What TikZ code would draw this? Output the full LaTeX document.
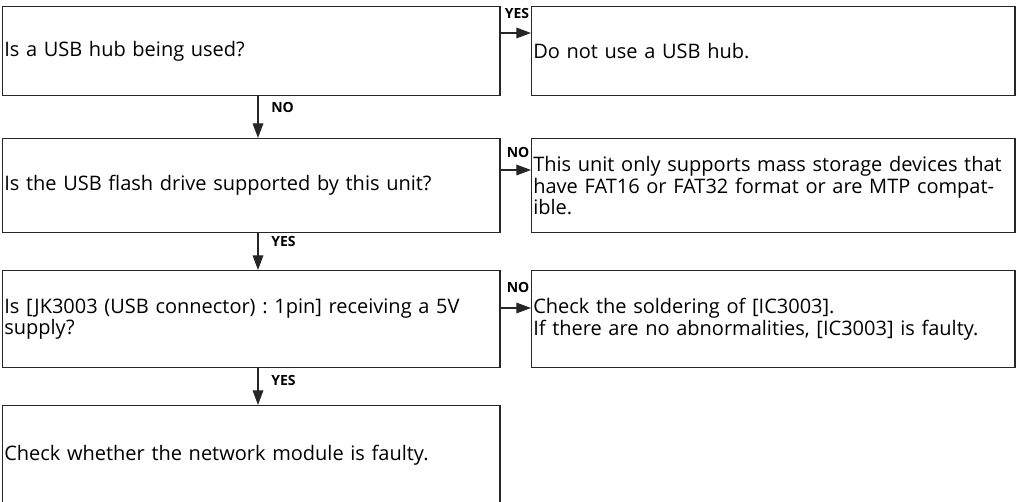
\documentclass[tikz,border=0pt]{standalone}
\usepackage{fontspec}
\setmainfont{Open Sans}
\frenchspacing
\usetikzlibrary{arrows.meta,calc}
\newcommand\myboxfont{\fontsize{15}{16}\selectfont\setlength\lineskiplimit{-20pt}\setlength\lineskip{0pt}}
\begin{document}
\begin{tikzpicture}[x=0.75pt,y=-0.75pt,
  lbox/.style={draw=black!85, line width=1pt, rectangle, anchor=north west,
    inner xsep=1.2pt, inner ysep=0pt, text width=370.5pt, align=left,
    font=\myboxfont},
  rbox/.style={lbox, text width=360pt},
  conn/.style={draw=black!85, line width=0.9pt, -{Triangle[length=11pt,width=8pt]}},
  lab/.style={font=\fontsize{10.5}{11}\selectfont\bfseries, inner sep=0pt}]
\useasboundingbox (0,0) rectangle (1024,502);
% left column
\node[lbox, minimum height=66.75pt] (b1) at (2,6) {Is a USB hub being used?};
\node[lbox, minimum height=70.5pt] (b2) at (2,138) {Is the USB flash drive supported by this unit?};
\node[lbox, minimum height=72.75pt] (b3) at (2,270) {Is [JK3003 (USB connector) : 1pin] receiving a 5V\\supply?};
\node[lbox, minimum height=75pt] (b4) at (2,405) {Check whether the network module is faulty.};
% right column
\node[rbox, minimum height=66.75pt] (r1) at (531,6) {Do not use a USB hub.};
\node[rbox, minimum height=70.5pt] (r2) at (531,138) {This unit only supports mass storage devices that\\have FAT16 or FAT32 format or are MTP compat-\\ible.};
\node[rbox, minimum height=72.75pt] (r3) at (531,270) {Check the soldering of [IC3003].\\If there are no abnormalities, [IC3003] is faulty.};
% vertical connectors
\draw[conn] ($(b1.south west)+(256,0)$) -- ($(b2.north west)+(256,0)$);
\draw[conn] ($(b2.south west)+(256,0)$) -- ($(b3.north west)+(256,0)$);
\draw[conn] ($(b3.south west)+(256,0)$) -- ($(b4.north west)+(256,0)$);
\node[lab, anchor=west] (l1) at ($(b1.south west)+(269,11)$) {NO};
\node[lab, anchor=west] (l2) at ($(b2.south west)+(269,8)$) {YES};
\node[lab, anchor=west] (l3) at ($(b3.south west)+(269,12)$) {YES};
% horizontal connectors
\draw[conn] ($(b1.north east)+(0,27)$) -- ($(r1.north west)+(0,27)$);
\draw[conn] ($(b2.north east)+(0,32)$) -- ($(r2.north west)+(0,32)$);
\draw[conn] ($(b3.north east)+(0,38)$) -- ($(r3.north west)+(0,38)$);
\node[lab, anchor=west] (l4) at ($(b1.north east)+(4,8)$) {YES};
\node[lab, anchor=west] (l5) at ($(b2.north east)+(6,14)$) {NO};
\node[lab, anchor=west] (l6) at ($(b3.north east)+(6,17)$) {NO};
\end{tikzpicture}
\end{document}
